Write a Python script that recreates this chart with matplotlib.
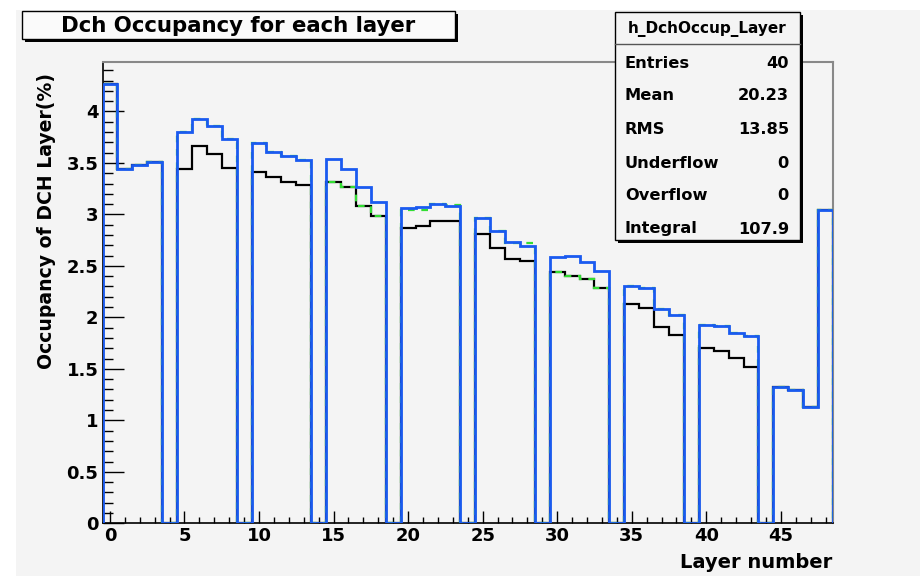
import numpy as np
import matplotlib.pyplot as plt
from matplotlib.patches import Rectangle
from matplotlib.lines import Line2D

# Occupancy per layer (%), bins centred on layer number 0..48
layers = np.arange(49)
occ_total = [4.27, 3.44, 3.48, 3.51, 0,
             3.80, 3.925, 3.855, 3.73, 0,
             3.69, 3.61, 3.57, 3.53, 0,
             3.54, 3.445, 3.27, 3.12, 0,
             3.06, 3.075, 3.105, 3.085, 0,
             2.965, 2.835, 2.73, 2.695, 0,
             2.585, 2.60, 2.54, 2.455, 0,
             2.305, 2.29, 2.085, 2.02, 0,
             1.925, 1.915, 1.845, 1.815, 0,
             1.325, 1.29, 1.125, 3.04]
occ_layer = [4.27, 3.44, 3.48, 3.51, 0,
             3.445, 3.66, 3.59, 3.455, 0,
             3.41, 3.36, 3.315, 3.285, 0,
             3.31, 3.265, 3.08, 2.985, 0,
             2.87, 2.89, 2.94, 2.935, 0,
             2.81, 2.67, 2.565, 2.55, 0,
             2.44, 2.405, 2.375, 2.29, 0,
             2.13, 2.095, 1.905, 1.825, 0,
             1.70, 1.67, 1.61, 1.52, 0,
             1.325, 1.29, 1.125, 3.04]
occ_green = [4.27, 3.44, 3.48, 3.51, 0,
             3.80, 3.925, 3.855, 3.73, 0,
             3.69, 3.61, 3.57, 3.53, 0,
             3.31, 3.265, 3.08, 2.985, 0,
             3.04, 3.04, 3.10, 3.09, 0,
             2.965, 2.835, 2.72, 2.72, 0,
             2.44, 2.405, 2.375, 2.29, 0,
             2.305, 2.29, 2.085, 2.02, 0,
             1.925, 1.915, 1.845, 1.815, 0,
             1.325, 1.29, 1.125, 3.04]

stat_names = ["Entries", "Mean", "RMS", "Underflow", "Overflow", "Integral"]
stat_values = ["40", "20.23", "13.85", "0", "0", "107.9"]

plt.rcParams['font.family'] = ['DejaVu Sans']
plt.rcParams['font.weight'] = 'bold'

W, H = 924, 576
fig = plt.figure(figsize=(W / 100, H / 100), dpi=100, facecolor='white')


def box(x0, y0, x1, y1, **kw):
    # rectangle given in pixel coords (y from top)
    r = Rectangle((x0 / W, 1 - y1 / H), (x1 - x0) / W, (y1 - y0) / H,
                  transform=fig.transFigure, **kw)
    fig.patches.append(r)
    return r


def ftext(x, y, s, **kw):
    fig.text(x / W, 1 - y / H, s, **kw)


# canvas background
box(16, 10, 920, 576, fc='#f4f4f4', ec='none', zorder=-5)

ax = fig.add_axes([102.5 / W, 1 - 523.3 / H, (833 - 102.5) / W, (523.3 - 62) / H])
ax.patch.set_visible(False)

edges = np.append(layers - 0.5, layers[-1] + 0.5)
ax.stairs(occ_layer, edges, baseline=0, color='black', lw=1.6, zorder=2)
ax.stairs(occ_green, edges, baseline=0, color='#33dd33', lw=1.6,
          linestyle=(0, (3, 3)), zorder=3)
ax.stairs(occ_total, edges, baseline=0, color='#1a5af0', lw=2.0, zorder=4)

ax.set_xlim(-0.5, 48.5)
ax.set_ylim(0, 4.48)

ax.set_xticks(np.arange(0, 46, 5))
ax.set_xticks(np.arange(0, 49, 1), minor=True)
yt = np.arange(0, 4.01, 0.5)
ax.set_yticks(yt)
ax.set_yticklabels([f"{v:g}" for v in yt])
ax.set_yticks(np.arange(0, 4.45, 0.1), minor=True)

ax.tick_params(axis='x', which='major', direction='in', length=8.5, width=1,
               labelsize=13, pad=3)
ax.tick_params(axis='x', which='minor', direction='in', length=4.3, width=1)
ax.tick_params(axis='y', which='major', direction='in', length=15, width=1,
               labelsize=13, pad=3)
ax.tick_params(axis='y', which='minor', direction='in', length=7.5, width=1)
for lab in ax.get_xticklabels() + ax.get_yticklabels():
    lab.set_fontweight('bold')

for s in ['left', 'bottom']:
    ax.spines[s].set_color('black')
    ax.spines[s].set_linewidth(1.2)
for s in ['top', 'right']:
    ax.spines[s].set_color('#888888')
    ax.spines[s].set_linewidth(1.5)

# axis titles
ftext(47, 73, "Occupancy of DCH Layer(%)", rotation=90, ha='center', va='top',
      fontsize=13.6)
ftext(832, 562, "Layer number", ha='right', va='center', fontsize=14)

# title box
box(25, 14, 458, 42, fc='black', ec='none', zorder=5)
box(22, 11, 455, 39, fc='#fafafa', ec='black', lw=1.0, zorder=6)
ftext(238, 26, "Dch Occupancy for each layer", ha='center', va='center',
      fontsize=15.3, zorder=7)

# stats box
box(618, 15, 803, 243, fc='black', ec='none', zorder=5)
box(615, 12, 800, 240, fc='#f4f4f4', ec='black', lw=1.0, zorder=6)
fig.add_artist(Line2D([615 / W, 800 / W], [1 - 44 / H, 1 - 44 / H],
                      color='#555555', lw=1.0, zorder=7))
ftext(707, 29, "h_DchOccup_Layer", ha='center', va='center', fontsize=11, zorder=7)
row_y = [63, 96, 129, 163, 196, 229]
for name, val, y in zip(stat_names, stat_values, row_y):
    ftext(625, y, name, ha='left', va='center', fontsize=11.7, zorder=7)
    ftext(789, y, val, ha='right', va='center', fontsize=11.7, zorder=7)

fig.savefig("out.png", dpi=100, facecolor=fig.get_facecolor())
